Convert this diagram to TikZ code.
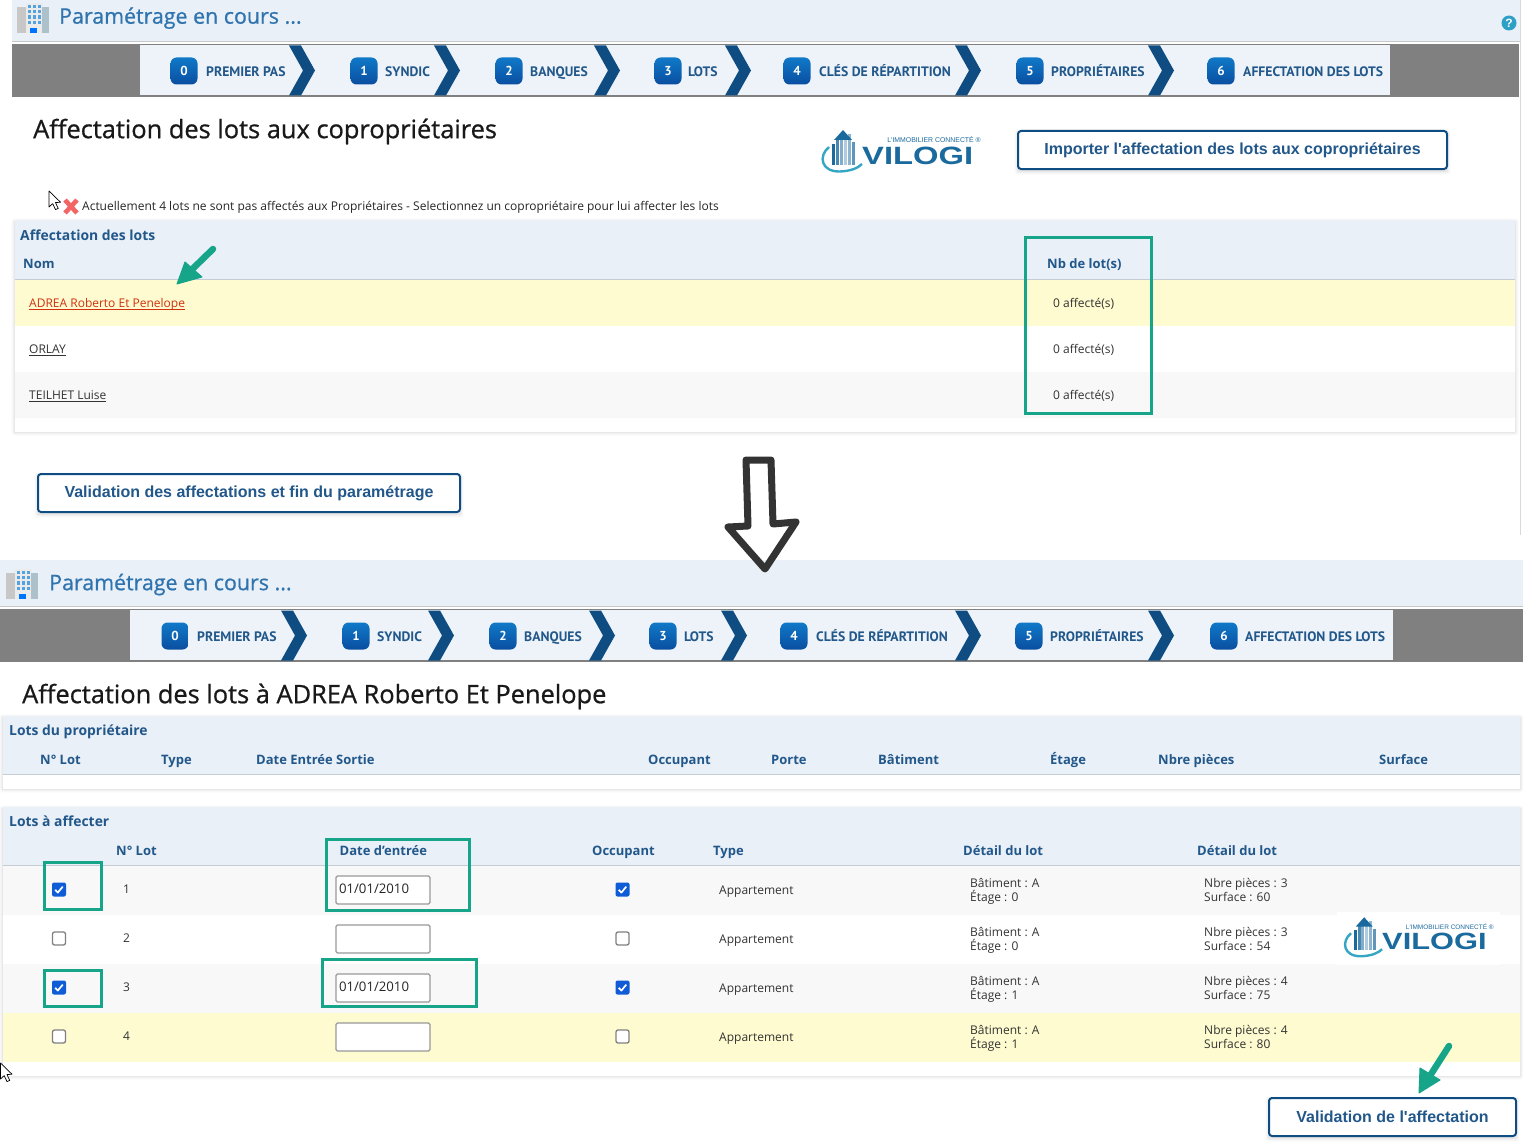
\documentclass[tikz,border=0pt]{standalone}
\usepackage{fontspec}
\setmainfont{Open Sans}
\newfontfamily\stepfont{PT Sans}
\newfontfamily\btnfont{Liberation Sans}
\newfontfamily\medfont[FakeBold=0.8]{Open Sans}
\usetikzlibrary{calc}
\definecolor{panelbg}{HTML}{E9F0F8}
\definecolor{stepbg}{HTML}{EDF3F9}
\definecolor{greybar}{HTML}{808080}
\definecolor{navy}{HTML}{0F4C81}
\definecolor{headtxt}{HTML}{22578A}
\definecolor{titletxt}{HTML}{2F74AE}
\definecolor{teal}{HTML}{17A589}
\definecolor{yellowrow}{HTML}{FDFBCF}
\definecolor{greyrow}{HTML}{F8F8F9}
\definecolor{logoblue}{HTML}{1A6A9E}
\definecolor{cbblue}{HTML}{0F5CD6}
\definecolor{badgetop}{HTML}{1079C8}
\definecolor{badgebot}{HTML}{0A4EA0}
\definecolor{linkred}{HTML}{D0320F}
\definecolor{helpblue}{HTML}{2E9FC5}
\definecolor{crosspink}{HTML}{F26565}
\tikzset{
 txt/.style={anchor=mid west,inner sep=0pt,outer sep=0pt,yshift=-1.8pt,text=#1},
 txt/.default=black!85,
 headlabel/.style={anchor=mid west,inner sep=0pt,yshift=-1.8pt,text=headtxt,font=\bfseries\fontsize{13}{15}\selectfont},
 caplabel/.style={anchor=mid west,inner sep=0pt,yshift=-2.2pt,text=headtxt,font=\bfseries\fontsize{13.9}{16}\selectfont},
 celltext/.style={anchor=mid west,inner sep=0pt,yshift=-1.7pt,text=black!80,font=\fontsize{12}{14}\selectfont},
 steplabel/.style={anchor=mid west,inner sep=0pt,yshift=-2.5pt,text=headtxt,font=\stepfont\bfseries\fontsize{13.7}{15}\selectfont},
 pagetitle/.style={anchor=mid west,inner sep=0pt,yshift=-5.5pt,text=black!90,font=\medfont\fontsize{25.4}{28}\selectfont},
 crumb/.style={anchor=mid west,inner sep=0pt,yshift=-4pt,text=titletxt,font=\medfont\fontsize{21.4}{25}\selectfont},
 btn/.style={draw=navy,line width=2pt,rounded corners=3pt,fill=white,text=headtxt,font=\btnfont\bfseries\fontsize{16}{18}\selectfont},
 tealbox/.style={draw=teal,line width=3pt},
 inputbox/.style={draw=black!40,line width=1.2pt,fill=white,rounded corners=1.5pt},
 cursorshape/.style={draw=black,fill=white,line width=.7pt,line join=round},
 greenarrow/.style={draw=teal,line width=6.5pt,line cap=round},
 greenhead/.style={fill=teal,draw=teal,line width=1pt,line join=round},
}
% soft shadow under a panel
\newcommand{\softshade}[4]{%
 \foreach \w/\o in {8/.012,6/.018,4/.025,2/.035}{\draw[line width=\w pt,black,opacity=\o,line join=round] (#1,#2+2) rectangle (#3,#4);}}
% chevron
\newcommand{\chev}[2]{\fill[navy] (#1,#2+.5) -- ++(12,0) -- ++(14,25) -- ++(-14,25) -- ++(-12,0) -- ++(14,-25) -- cycle;}
% numbered badge
\newcommand{\badge}[4]{\node[minimum width=27pt,minimum height=27pt,inner sep=0pt,rounded corners=6pt,top color=badgetop,bottom color=badgebot,text=white,font=\stepfont\bfseries\fontsize{13}{15}\selectfont] (#4) at (#1,#2) {#3};}
% building pictogram
\newcommand{\buildicon}[2]{\begin{scope}[shift={(#1,#2)}]
 \fill[black!22] (0,4) rectangle (10,30);
 \fill[black!8] (9,0) rectangle (26,30);
 \fill[black!10!cyan!30!gray!60] (25,4) rectangle (32,30);
 \foreach \i in {0,1,2,3}{\foreach \j in {0,1,2}{\fill[cyan!70!blue!70] (11+\j*5,2+\i*5.2) rectangle ++(3.2,3.2);}}
 \fill[blue!55!cyan] (13,25) rectangle (20,30);
\end{scope}}
% logo
\newcommand{\vilogi}[4]{\begin{scope}[shift={(#1,#2)},scale=#4]
 \foreach \x/\h/\c in {11/10/100,15/4/80,19/0/55,23/0/35,27/0/50,31/8/70}{\fill[logoblue!\c!white] (\x,\h) rectangle ++(3.3,31-\h);}
 \fill[logoblue] (22,-4) -- (13,6) -- (31,6) -- cycle;
 \draw[logoblue!70!cyan!85!white,line width=2.4pt] (8,13) .. controls (-3,22) and (0,38) .. (19,37.5) .. controls (30,37) and (37,34) .. (41,30);
 \node[anchor=west,inner sep=0pt,text=logoblue,transform shape,font=\btnfont\bfseries\fontsize{25}{26}\selectfont] (#3a) at (41,22) {\scalebox{1.31}[1]{VILOGI}};
 \node[anchor=east,inner sep=0pt,text=logoblue,transform shape,font=\btnfont\fontsize{6.9}{8}\selectfont] (#3b) at (160,6) {L'IMMOBILIER CONNECTÉ ®};
\end{scope}}
% checkbox
\newcommand{\cbon}[3]{\node[minimum size=14pt,inner sep=0pt,fill=cbblue,rounded corners=2pt] (#3) at (#1,#2) {};
 \draw[white,line width=1.7pt,line join=round] ($(#3)+(-3.8,.3)$) -- ++(2.6,2.8) -- ++(5,-6);}
\newcommand{\cboff}[3]{\node[minimum size=13pt,inner sep=0pt,fill=white,draw=black!50,line width=1.3pt,rounded corners=2pt] (#3) at (#1,#2) {};}
\newcommand{\cursorat}[2]{\draw[cursorshape] (#1,#2) -- ++(0,16) -- ++(3.7,-3.4) -- ++(2.8,6) -- ++(2.7,-1.2) -- ++(-2.7,-5.8) -- ++(5,-.4) -- cycle;}
\newcommand{\ul}[1]{\underline{\smash{#1}}}
\begin{document}
\begin{tikzpicture}[x=1pt,y=-1pt]
\useasboundingbox (0,0) rectangle (1523,1145);
\fill[white] (0,0) rectangle (1523,1145);
\draw[black!15,line width=1pt] (1520.5,0) -- (1520.5,535);
% ---------- top screen
\fill[panelbg] (12,0) rectangle (1520,41);
\fill[black!22] (12,41) rectangle (1520,42);
\buildicon{17}{3}
\node[crumb] (crumbA) at (59,17) {Paramétrage en cours ...};
\node[circle,fill=helpblue,text=white,inner sep=0pt,minimum size=15pt,font=\btnfont\bfseries\fontsize{12}{12}\selectfont] (helpA) at (1509,23) {?};
\fill[greybar] (12,44) rectangle (1519,97);
\fill[stepbg] (140,45) rectangle (1390,95);
\foreach \x in {289,434,594,725,955,1148}{\chev{\x}{45}}
\badge{184}{71}{0}{ba0}\badge{364}{71}{1}{ba1}\badge{509}{71}{2}{ba2}\badge{668}{71}{3}{ba3}\badge{797}{71}{4}{ba4}\badge{1030}{71}{5}{ba5}\badge{1221}{71}{6}{ba6}
\node[steplabel] (sa0) at (206,71) {PREMIER PAS};
\node[steplabel] (sa1) at (385,71) {SYNDIC};
\node[steplabel] (sa2) at (530,71) {BANQUES};
\node[steplabel] (sa3) at (688,71) {LOTS};
\node[steplabel] (sa4) at (819,71) {CLÉS DE RÉPARTITION};
\node[steplabel] (sa5) at (1051,71) {PROPRIÉTAIRES};
\node[steplabel] (sa6) at (1243,71) {AFFECTATION DES LOTS};
\node[pagetitle] (titleA) at (33,130) {Affectation des lots aux copropriétaires};
\vilogi{821}{134}{logoA}{1}
\softshade{1018}{131}{1447}{171}
\node[btn,minimum width=429pt,minimum height=38pt,inner sep=0pt] (importbtn) at (1232.5,150) {Importer l'affectation des lots aux copropriétaires};
\cursorat{49}{191}
\draw[crosspink,line width=4.6pt] (65,200) -- (77,213) (77,200) -- (65,213);
\node[celltext,text=black!85] (warnA) at (82,206) {Actuellement 4 lots ne sont pas affectés aux Propriétaires - Selectionnez un copropriétaire pour lui affecter les lots};
% table A
\softshade{15}{220}{1515}{432}
\fill[white] (15,220) rectangle (1515,432);
\fill[panelbg] (15,220) rectangle (1515,279);
\fill[black!15!panelbg] (15,279) rectangle (1515,280);
\fill[yellowrow] (15,280) rectangle (1515,326);
\fill[greyrow] (15,372) rectangle (1515,418);
\node[caplabel] (capA) at (20,236) {Affectation des lots};
\node[headlabel] (hNom) at (23,264.5) {Nom};
\node[headlabel] (hNb) at (1047,264.5) {Nb de lot(s)};
\node[celltext,text=linkred] (n1) at (29,303) {\ul{ADREA Roberto Et Penelope}};
\node[celltext] (n2) at (29,349) {\ul{ORLAY}};
\node[celltext] (n3) at (29,395) {\ul{TEILHET Luise}};
\node[celltext] (a1) at (1053,303) {0 affecté(s)};
\node[celltext] (a2) at (1053,349) {0 affecté(s)};
\node[celltext] (a3) at (1053,395) {0 affecté(s)};
\node[tealbox,minimum width=126pt,minimum height=176pt,inner sep=0pt] (boxNb) at (1088.5,325.5) {};
\softshade{38}{474}{460}{514}
\node[btn,minimum width=422pt,minimum height=38pt,inner sep=0pt] (validbtn) at (249,493) {Validation des affectations et fin du paramétrage};
% green arrow 1
\coordinate (g1tail) at (213,249);
\coordinate (g1tip) at (177,284);
\draw[greenarrow] (g1tail) -- ($(g1tip)!.4!(g1tail)$);
\fill[greenhead] (g1tip) -- (185,262) -- (202,277) -- cycle;
% ---------- bottom screen
\fill[panelbg] (0,560) rectangle (1523,606);
\fill[black!22] (0,606) rectangle (1523,607);
\buildicon{6}{569}
\node[crumb] (crumbB) at (49,583.5) {Paramétrage en cours ...};
\fill[greybar] (0,609) rectangle (1523,662);
\fill[stepbg] (130,610) rectangle (1393,660);
\foreach \x in {281,428,589,721,955,1148}{\chev{\x}{610}}
\badge{175}{636}{0}{bb0}\badge{356}{636}{1}{bb1}\badge{503}{636}{2}{bb2}\badge{663}{636}{3}{bb3}\badge{794}{636}{4}{bb4}\badge{1029}{636}{5}{bb5}\badge{1224}{636}{6}{bb6}
\node[steplabel] (sb0) at (197,636) {PREMIER PAS};
\node[steplabel] (sb1) at (377,636) {SYNDIC};
\node[steplabel] (sb2) at (524,636) {BANQUES};
\node[steplabel] (sb3) at (684,636) {LOTS};
\node[steplabel] (sb4) at (816,636) {CLÉS DE RÉPARTITION};
\node[steplabel] (sb5) at (1050,636) {PROPRIÉTAIRES};
\node[steplabel] (sb6) at (1245,636) {AFFECTATION DES LOTS};
\node[pagetitle] (titleB) at (22,695) {Affectation des lots à ADREA Roberto Et Penelope};
% table B
\softshade{3}{716}{1520}{789}
\fill[white] (3,716) rectangle (1520,789);
\fill[panelbg] (3,716) rectangle (1520,774);
\fill[black!15!panelbg] (3,774) rectangle (1520,775);
\node[caplabel] (capB) at (9,731) {Lots du propriétaire};
\foreach \x/\t/\n in {40/N° Lot/h1,161/Type/h2,256/Date Entrée Sortie/h3,648/Occupant/h4,771/Porte/h5,878/Bâtiment/h6,1050/Étage/h7,1158/Nbre pièces/h8,1379/Surface/h9}{
 \node[headlabel] (\n) at (\x,760) {\t};}
% table C
\softshade{3}{807}{1520}{1076}
\fill[white] (3,807) rectangle (1520,1076);
\fill[panelbg] (3,807) rectangle (1520,865);
\fill[black!15!panelbg] (3,865) rectangle (1520,866);
\fill[greyrow] (3,866) rectangle (1520,915);
\fill[greyrow] (3,964) rectangle (1520,1013);
\fill[yellowrow] (3,1013) rectangle (1520,1062);
\node[caplabel] (capC) at (9,822) {Lots à affecter};
\foreach \x/\t/\n in {116/N° Lot/k1,339.5/Date d'entrée/k2,592/Occupant/k3,713/Type/k4,963/Détail du lot/k5,1197/Détail du lot/k6}{
 \node[headlabel] (\n) at (\x,851) {\t};}
% rows
\cbon{59}{889.5}{c1}\cboff{59}{938.5}{c2}\cbon{59}{987.5}{c3}\cboff{59}{1036.5}{c4}
\cbon{622.5}{889.5}{o1}\cboff{622.5}{938.5}{o2}\cbon{622.5}{987.5}{o3}\cboff{622.5}{1036.5}{o4}
\foreach \y/\i in {889.5/1,938.5/2,987.5/3,1036.5/4}{
 \node[celltext] (lot\i) at (123,\y) {\i};
 \node[inputbox,minimum width=94pt,minimum height=28pt,inner sep=0pt] (inp\i) at (383,\y+.5) {};
 \node[celltext] (app\i) at (719,\y+.5) {Appartement};
}
\node[txt=black!85,font=\fontsize{13.2}{15}\selectfont] (d1) at (339,889.5) {01/01/2010};
\node[txt=black!85,font=\fontsize{13.2}{15}\selectfont] (d3) at (339,987.5) {01/01/2010};
\foreach \y/\ba/\et/\np/\su/\i in {883/A/0/3/60/1,932/A/0/3/54/2,981/A/1/4/75/3,1030/A/1/4/80/4}{
 \node[celltext] (ba\i) at (970,\y) {Bâtiment : \ba};
 \node[celltext] (et\i) at (970,\y+14) {Étage : \et};
 \node[celltext] (np\i) at (1204,\y) {Nbre pièces : \np};
 \node[celltext] (su\i) at (1204,\y+14) {Surface : \su};
}
\fill[white] (1337,912) rectangle (1500,965);
\vilogi{1343.5}{921}{logoB}{.94}
\node[tealbox,minimum width=57pt,minimum height=47pt,inner sep=0pt] (bc1) at (72.5,886) {};
\node[tealbox,minimum width=57pt,minimum height=36pt,inner sep=0pt] (bc3) at (72.5,988) {};
\node[tealbox,minimum width=143pt,minimum height=71pt,inner sep=0pt] (bd1) at (397.5,875) {};
\node[tealbox,minimum width=154pt,minimum height=47pt,inner sep=0pt] (bd3) at (399.5,983) {};
\softshade{1269}{1098}{1516}{1138}
\node[btn,minimum width=247pt,minimum height=38pt,inner sep=0pt] (validaff) at (1392.5,1117) {Validation de l'affectation};
\cursorat{0.5}{1063}
% green arrow 2
\coordinate (g2tail) at (1449,1046);
\coordinate (g2tip) at (1419,1093);
\draw[greenarrow] (g2tail) -- ($(g2tip)!.38!(g2tail)$);
\fill[greenhead] (g2tip) -- (1420,1068) -- (1440,1080) -- cycle;
% big hand-drawn arrow
\coordinate (ha1) at (746,460);\coordinate (ha2) at (771,460);\coordinate (ha3) at (773,524);\coordinate (ha4) at (796,522);
\coordinate (ha5) at (765,569);\coordinate (ha6) at (728,527);\coordinate (ha7) at (748,526);
\draw[black!80,line width=7pt,line join=round] (ha1) -- (ha2) -- (ha3) -- (ha4) -- (ha5) -- (ha6) -- (ha7) -- cycle;
\end{tikzpicture}
\end{document}
